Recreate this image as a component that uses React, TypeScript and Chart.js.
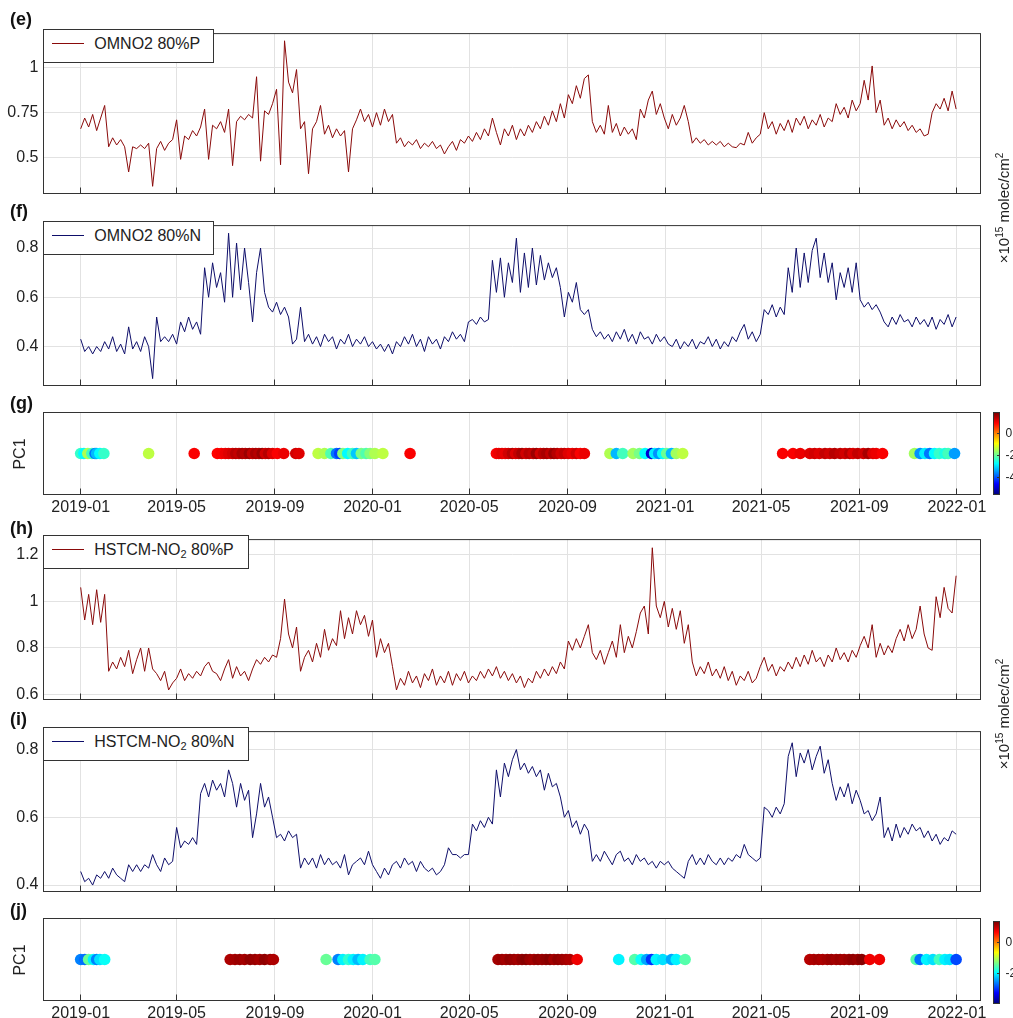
import React, { useEffect, useRef } from "react";
import { Chart, registerables } from "chart.js";

Chart.register(...registerables);

const FONT = '"Liberation Sans", Arial, Helvetica, sans-serif';
Chart.defaults.font.family = FONT;

const W = 1013;
const H = 1018;
const PLOT_LEFT = 43.5;
const PLOT_RIGHT = 980.5;
const X_MIN = -46.5; // days since 2019-01-01
const X_MAX = 1125.5;
const SAMPLE_STEP_DAYS = 5; // series sampled every 5 days from 2019-01-01

// ---------- tick data ----------
const xTickDays = [0, 120, 243, 365, 486, 609, 731, 851, 974, 1096];
const xTickLabels = ["2019-01", "2019-05", "2019-09", "2020-01", "2020-05", "2020-09", "2021-01", "2021-05", "2021-09", "2022-01"];
const yTicksE = [0.5, 0.75, 1];
const yTicksF = [0.4, 0.6, 0.8];
const yTicksH = [0.6, 0.8, 1, 1.2];
const yTicksI = [0.4, 0.6, 0.8];
const colorbarTicksG = [0, -2, -4];
const colorbarTicksJ = [0, -2];

// ---------- series (x10^15 molec/cm^2), one value every 5 days ----------
const omno2P = [
  0.66, 0.72, 0.67, 0.74, 0.65, 0.72, 0.79, 0.56, 0.61, 0.57, 0.60, 0.56, 0.42, 0.56, 0.55, 0.57, 0.55, 0.58, 0.34, 0.55,
  0.59, 0.54, 0.58, 0.60, 0.71, 0.49, 0.62, 0.60, 0.65, 0.62, 0.67, 0.77, 0.49, 0.68, 0.66, 0.70, 0.64, 0.77, 0.455, 0.70,
  0.73, 0.71, 0.74, 0.72, 0.95, 0.48, 0.76, 0.74, 0.80, 0.88, 0.46, 1.15, 0.92, 0.86, 0.99, 0.66, 0.70, 0.41, 0.66, 0.70,
  0.79, 0.63, 0.68, 0.61, 0.66, 0.62, 0.65, 0.42, 0.66, 0.71, 0.77, 0.70, 0.74, 0.67, 0.75, 0.68, 0.77, 0.70, 0.74, 0.58,
  0.61, 0.56, 0.59, 0.57, 0.60, 0.55, 0.58, 0.56, 0.59, 0.55, 0.57, 0.52, 0.56, 0.59, 0.54, 0.60, 0.58, 0.62, 0.59, 0.64,
  0.60, 0.66, 0.62, 0.72, 0.64, 0.57, 0.66, 0.62, 0.68, 0.60, 0.66, 0.62, 0.68, 0.64, 0.70, 0.66, 0.73, 0.68, 0.76, 0.70,
  0.80, 0.72, 0.85, 0.80, 0.90, 0.83, 0.94, 0.96, 0.70, 0.64, 0.68, 0.63, 0.79, 0.64, 0.69, 0.62, 0.67, 0.63, 0.66, 0.60,
  0.77, 0.72, 0.82, 0.87, 0.74, 0.80, 0.72, 0.66, 0.74, 0.68, 0.72, 0.79, 0.70, 0.58, 0.61, 0.58, 0.60, 0.57, 0.59, 0.57,
  0.59, 0.56, 0.58, 0.56, 0.555, 0.58, 0.57, 0.64, 0.58, 0.61, 0.63, 0.75, 0.66, 0.70, 0.63, 0.69, 0.65, 0.71, 0.64, 0.72,
  0.68, 0.73, 0.66, 0.71, 0.68, 0.74, 0.67, 0.72, 0.70, 0.80, 0.74, 0.78, 0.72, 0.82, 0.76, 0.80, 0.93, 0.82, 1.01, 0.75,
  0.82, 0.68, 0.72, 0.66, 0.71, 0.67, 0.70, 0.65, 0.68, 0.64, 0.66, 0.62, 0.63, 0.75, 0.80, 0.77, 0.83, 0.76, 0.87, 0.77,
];

const omno2N = [
  0.43, 0.38, 0.40, 0.37, 0.40, 0.38, 0.42, 0.39, 0.44, 0.38, 0.41, 0.37, 0.48, 0.39, 0.42, 0.38, 0.44, 0.40, 0.27, 0.52,
  0.42, 0.44, 0.42, 0.45, 0.41, 0.50, 0.46, 0.52, 0.47, 0.50, 0.45, 0.72, 0.60, 0.74, 0.64, 0.70, 0.58, 0.86, 0.60, 0.82,
  0.63, 0.80, 0.66, 0.50, 0.70, 0.80, 0.62, 0.56, 0.54, 0.58, 0.53, 0.56, 0.52, 0.41, 0.43, 0.56, 0.42, 0.45, 0.41, 0.44,
  0.40, 0.45, 0.42, 0.44, 0.39, 0.43, 0.41, 0.45, 0.40, 0.43, 0.41, 0.44, 0.40, 0.42, 0.39, 0.41, 0.38, 0.41, 0.37, 0.42,
  0.40, 0.44, 0.41, 0.45, 0.40, 0.43, 0.38, 0.44, 0.41, 0.43, 0.39, 0.44, 0.42, 0.46, 0.43, 0.45, 0.42, 0.50, 0.51, 0.49,
  0.52, 0.50, 0.51, 0.75, 0.62, 0.76, 0.60, 0.74, 0.66, 0.84, 0.62, 0.78, 0.64, 0.80, 0.65, 0.77, 0.67, 0.74, 0.68, 0.72,
  0.64, 0.52, 0.62, 0.58, 0.66, 0.55, 0.53, 0.55, 0.47, 0.44, 0.46, 0.43, 0.45, 0.42, 0.46, 0.43, 0.47, 0.42, 0.45, 0.41,
  0.46, 0.43, 0.44, 0.41, 0.45, 0.42, 0.44, 0.41, 0.40, 0.43, 0.39, 0.42, 0.40, 0.43, 0.39, 0.42, 0.41, 0.44, 0.40, 0.43,
  0.39, 0.42, 0.40, 0.44, 0.42, 0.46, 0.49, 0.43, 0.46, 0.42, 0.45, 0.55, 0.53, 0.57, 0.52, 0.56, 0.53, 0.72, 0.62, 0.80,
  0.64, 0.78, 0.66, 0.79, 0.84, 0.68, 0.78, 0.66, 0.74, 0.59, 0.70, 0.64, 0.72, 0.62, 0.74, 0.59, 0.56, 0.58, 0.55, 0.57,
  0.54, 0.50, 0.48, 0.52, 0.49, 0.53, 0.50, 0.51, 0.48, 0.52, 0.49, 0.51, 0.48, 0.52, 0.47, 0.51, 0.49, 0.53, 0.48, 0.52,
];

const hstcmP = [
  1.06, 0.92, 1.03, 0.90, 1.05, 0.91, 1.03, 0.70, 0.74, 0.71, 0.76, 0.72, 0.79, 0.69, 0.75, 0.80, 0.70, 0.80, 0.71, 0.69,
  0.66, 0.70, 0.62, 0.65, 0.67, 0.71, 0.66, 0.69, 0.67, 0.70, 0.68, 0.72, 0.74, 0.70, 0.69, 0.66, 0.71, 0.75, 0.67, 0.72,
  0.68, 0.70, 0.66, 0.71, 0.75, 0.73, 0.76, 0.74, 0.77, 0.76, 0.84, 1.01, 0.86, 0.80, 0.89, 0.70, 0.76, 0.79, 0.74, 0.82,
  0.76, 0.88, 0.79, 0.84, 0.81, 0.96, 0.84, 0.93, 0.86, 0.96, 0.90, 0.94, 0.85, 0.92, 0.76, 0.84, 0.78, 0.82, 0.72, 0.62,
  0.67, 0.64, 0.70, 0.65, 0.68, 0.63, 0.69, 0.66, 0.71, 0.64, 0.68, 0.65, 0.70, 0.64, 0.69, 0.66, 0.70, 0.65, 0.68, 0.66,
  0.70, 0.67, 0.71, 0.68, 0.72, 0.67, 0.70, 0.66, 0.69, 0.65, 0.68, 0.63, 0.67, 0.65, 0.70, 0.67, 0.71, 0.68, 0.72, 0.69,
  0.74, 0.71, 0.83, 0.79, 0.84, 0.80, 0.85, 0.90, 0.78, 0.75, 0.79, 0.73, 0.78, 0.83, 0.76, 0.90, 0.78, 0.85, 0.80, 0.87,
  0.95, 0.98, 0.86, 1.23, 0.98, 0.93, 1.00, 0.89, 0.97, 0.88, 0.96, 0.82, 0.90, 0.74, 0.68, 0.72, 0.69, 0.74, 0.68, 0.71,
  0.67, 0.72, 0.66, 0.70, 0.64, 0.68, 0.66, 0.70, 0.65, 0.67, 0.72, 0.76, 0.70, 0.73, 0.68, 0.72, 0.70, 0.74, 0.71, 0.76,
  0.72, 0.77, 0.73, 0.79, 0.74, 0.76, 0.72, 0.77, 0.74, 0.80, 0.75, 0.78, 0.74, 0.79, 0.76, 0.81, 0.85, 0.80, 0.90, 0.76,
  0.82, 0.77, 0.81, 0.78, 0.84, 0.88, 0.83, 0.90, 0.84, 0.88, 0.98, 0.86, 0.80, 0.79, 1.02, 0.93, 1.06, 0.97, 0.95, 1.11,
];

const hstcmN = [
  0.44, 0.41, 0.42, 0.40, 0.43, 0.42, 0.44, 0.42, 0.45, 0.43, 0.42, 0.41, 0.46, 0.44, 0.46, 0.44, 0.46, 0.45, 0.49, 0.46,
  0.44, 0.48, 0.46, 0.47, 0.57, 0.51, 0.53, 0.52, 0.54, 0.52, 0.67, 0.70, 0.66, 0.71, 0.68, 0.70, 0.66, 0.74, 0.70, 0.63,
  0.70, 0.65, 0.68, 0.54, 0.61, 0.70, 0.63, 0.66, 0.60, 0.54, 0.55, 0.53, 0.56, 0.54, 0.55, 0.45, 0.48, 0.46, 0.48, 0.45,
  0.49, 0.46, 0.48, 0.46, 0.47, 0.45, 0.49, 0.43, 0.46, 0.47, 0.48, 0.46, 0.50, 0.46, 0.44, 0.42, 0.45, 0.43, 0.46, 0.47,
  0.45, 0.48, 0.46, 0.47, 0.44, 0.47, 0.45, 0.44, 0.45, 0.43, 0.44, 0.46, 0.51, 0.49, 0.49, 0.48, 0.49, 0.49, 0.58, 0.56,
  0.59, 0.57, 0.60, 0.58, 0.74, 0.66, 0.76, 0.72, 0.77, 0.80, 0.74, 0.76, 0.73, 0.75, 0.72, 0.74, 0.68, 0.73, 0.69, 0.70,
  0.66, 0.60, 0.62, 0.57, 0.59, 0.55, 0.58, 0.56, 0.47, 0.49, 0.47, 0.50, 0.48, 0.46, 0.49, 0.50, 0.47, 0.48, 0.46, 0.49,
  0.47, 0.48, 0.46, 0.47, 0.45, 0.47, 0.46, 0.47, 0.45, 0.44, 0.43, 0.42, 0.47, 0.49, 0.46, 0.48, 0.46, 0.49, 0.47, 0.46,
  0.48, 0.46, 0.48, 0.47, 0.49, 0.48, 0.52, 0.49, 0.48, 0.47, 0.48, 0.63, 0.62, 0.60, 0.63, 0.61, 0.64, 0.78, 0.82, 0.72,
  0.79, 0.76, 0.80, 0.74, 0.78, 0.81, 0.73, 0.77, 0.70, 0.65, 0.69, 0.66, 0.70, 0.64, 0.68, 0.65, 0.61, 0.62, 0.59, 0.61,
  0.66, 0.54, 0.57, 0.53, 0.58, 0.54, 0.57, 0.55, 0.58, 0.56, 0.57, 0.54, 0.56, 0.53, 0.55, 0.52, 0.54, 0.53, 0.56, 0.55,
];

// ---------- PC1 scores (days since 2019-01-01) ----------
const pcDaysOMNO2 = [
  0, 4, 9, 14, 18, 20, 24, 29,
  85, 142,
  171, 176, 181, 185, 190, 194, 198, 202, 206, 211, 215, 219, 223, 227, 231, 235, 240, 246, 254, 269, 273,
  297, 305, 313, 320, 324, 328, 334, 340, 345, 351, 357, 362, 368, 378,
  412,
  520, 523, 527, 531, 535, 540, 544, 548, 552, 557, 561, 566, 570, 575, 579, 583, 588, 592, 596, 601, 605, 610, 615, 620, 625, 630,
  662, 670, 678, 691, 699, 706, 714, 718, 723, 728, 733, 739, 745, 753,
  878, 891, 900, 912, 918, 924, 931, 937, 943, 950, 956, 962, 966, 972, 979, 985, 991, 995, 1003,
  1043, 1050, 1056, 1062, 1068, 1074, 1081, 1085, 1093,
];
const pcValsOMNO2 = [
  -2.4, -2.8, -1.5, -2.3, -3.8, -3.3, -2.8, -2.4,
  -1.4, 1.0,
  0.95, 1.0, 1.1, 1.2, 1.3, 1.5, 1.4, 1.6, 1.5, 1.7, 1.4, 1.6, 1.5, 1.7, 1.3, 1.5, 1.2, 1.0, 1.1, 1.3, 1.2,
  -1.4, -1.5, -2.2, -3.8, -4.2, -1.8, -2.8, -2.3, -3.2, -1.9, -2.2, -1.8, -1.5, -1.4,
  1.0,
  1.0, 1.1, 1.2, 1.1, 1.3, 1.5, 1.2, 1.4, 1.6, 1.3, 1.5, 1.4, 1.7, 1.3, 1.5, 1.6, 1.4, 1.7, 1.5, 1.3, 1.4, 1.2, 1.1, 1.3, 1.0, 1.1,
  -1.5, -3.3, -2.3, -1.6, -1.9, -2.8, -5.0, -2.9, -3.6, -2.8, -2.0, -3.3, -1.6, -1.4,
  1.0, 1.0, 1.1, 1.2, 1.3, 1.2, 1.4, 1.3, 1.5, 1.4, 1.3, 1.5, 1.2, 1.4, 1.3, 1.6, 1.2, 1.1, 1.0,
  -1.6, -3.6, -2.9, -3.8, -2.8, -2.4, -2.6, -2.3, -3.5,
];

const pcDaysHSTCM = [
  0, 5, 10, 16, 20, 24, 30,
  187, 193, 199, 205, 212, 218, 224, 230, 237, 241,
  307, 322, 328, 335, 341, 347, 353, 362, 368,
  522, 527, 532, 537, 542, 547, 552, 557, 562, 567, 572, 577, 582, 587, 592, 597, 602, 607, 612, 621,
  673, 693, 701, 708, 714, 720, 728, 739, 745, 756,
  912, 917, 923, 928, 934, 939, 945, 950, 955, 961, 966, 972, 977, 987, 999,
  1045, 1050, 1058, 1066, 1074, 1081, 1087, 1095,
];
const pcValsHSTCM = [
  -2.6, -2.7, -1.4, -2.0, -2.6, -2.1, -1.9,
  1.15, 1.2, 1.25, 1.2, 1.3, 1.25, 1.2, 1.3, 1.25, 1.15,
  -1.4, -2.6, -2.0, -1.7, -2.0, -2.3, -2.0, -1.6, -1.5,
  1.2, 1.25, 1.2, 1.3, 1.25, 1.2, 1.3, 1.35, 1.25, 1.2, 1.3, 1.25, 1.3, 1.35, 1.2, 1.3, 1.25, 1.2, 1.15, 0.8,
  -2.0, -1.5, -1.9, -2.4, -3.0, -2.0, -2.1, -2.4, -2.0, -1.5,
  1.1, 1.15, 1.2, 1.15, 1.2, 1.25, 1.2, 1.25, 1.2, 1.25, 1.3, 1.25, 1.35, 0.8, 0.8,
  -1.5, -2.7, -2.0, -2.1, -1.6, -2.0, -2.1, -2.9,
];

// ---------- styling ----------
const RED = "#8a0a0a";
const NAVY = "#0e0e6a";
const GRID = "#e2e2e2";
const FRAME = "#333333";
const TEXT = "#222222";

function clamp01(v: number) {
  return Math.max(0, Math.min(1, v));
}
function jet(t: number) {
  const u = clamp01(t);
  const r = clamp01(1.5 - Math.abs(4 * u - 3));
  const g = clamp01(1.5 - Math.abs(4 * u - 2));
  const b = clamp01(1.5 - Math.abs(4 * u - 1));
  return `rgb(${Math.round(r * 255)},${Math.round(g * 255)},${Math.round(b * 255)})`;
}
const JET_GRADIENT =
  "linear-gradient(to top, rgb(0,0,128) 0%, rgb(0,0,255) 12.5%, rgb(0,255,255) 37.5%, rgb(128,255,128) 50%, rgb(255,255,0) 62.5%, rgb(255,0,0) 87.5%, rgb(128,0,0) 100%)";

type Spec = {
  key: string;
  kind: "line" | "scatter";
  top: number;
  bottom: number;
  values: number[];
  days?: number[];
  color?: string;
  yMin: number;
  yMax: number;
  yTicks: number[];
  cMin?: number;
  cMax?: number;
  showX: boolean;
};

const panels: Spec[] = [
  { key: "e", kind: "line", top: 29.5, bottom: 193.5, values: omno2P, color: RED, yMin: 0.3, yMax: 1.19, yTicks: yTicksE, showX: false },
  { key: "f", kind: "line", top: 221.5, bottom: 385.5, values: omno2N, color: NAVY, yMin: 0.242, yMax: 0.891, yTicks: yTicksF, showX: false },
  { key: "g", kind: "scatter", top: 412.5, bottom: 494.5, values: pcValsOMNO2, days: pcDaysOMNO2, yMin: -1, yMax: 1, yTicks: [], cMin: -5.6, cMax: 1.9, showX: true },
  { key: "h", kind: "line", top: 535.5, bottom: 699.5, values: hstcmP, color: RED, yMin: 0.579, yMax: 1.265, yTicks: yTicksH, showX: false },
  { key: "i", kind: "line", top: 727.5, bottom: 891.5, values: hstcmN, color: NAVY, yMin: 0.381, yMax: 0.853, yTicks: yTicksI, showX: false },
  { key: "j", kind: "scatter", top: 918.5, bottom: 1000.5, values: pcValsHSTCM, days: pcDaysHSTCM, yMin: -1, yMax: 1, yTicks: [], cMin: -3.94, cMax: 1.39, showX: true },
];

const framePlugin = {
  id: "frameAndTicks",
  afterDraw(chart: any) {
    const { ctx, chartArea: a, scales } = chart;
    ctx.save();
    ctx.strokeStyle = FRAME;
    ctx.lineWidth = 1;
    ctx.strokeRect(a.left, a.top, a.right - a.left, a.bottom - a.top);
    ctx.beginPath();
    xTickDays.forEach((d) => {
      const p = scales.x.getPixelForValue(d);
      const px = Math.round(p - 0.5) + 0.5;
      ctx.moveTo(px, a.bottom);
      ctx.lineTo(px, a.bottom - 6);
    });
    ctx.stroke();
    ctx.restore();
  },
};

function PanelChart({ spec }: { spec: Spec }) {
  const ref = useRef<HTMLCanvasElement | null>(null);
  const canvasTop = Math.floor(spec.top) - 10;
  const canvasHeight = Math.ceil(spec.bottom - canvasTop) + 30;

  useEffect(() => {
    if (!ref.current) return;
    const padTop = spec.top - canvasTop;
    const xAxisHeight = canvasHeight - (spec.bottom - canvasTop);
    const isLine = spec.kind === "line";
    let dataset: any;
    if (isLine) {
      dataset = {
        type: "line",
        data: spec.values.map((v, i) => ({ x: i * SAMPLE_STEP_DAYS, y: v })),
        borderColor: spec.color,
        borderWidth: 1,
        pointRadius: 0,
        tension: 0,
        fill: false,
      };
    } else {
      const range = (spec.cMax as number) - (spec.cMin as number);
      const colors = spec.values.map((v) => jet((v - (spec.cMin as number)) / range));
      dataset = {
        type: "scatter",
        data: (spec.days as number[]).map((d) => ({ x: d, y: 0 })),
        pointRadius: 5.8,
        pointBorderWidth: 0,
        pointBackgroundColor: colors,
        pointBorderColor: colors,
        showLine: false,
      };
    }
    const chart = new Chart(ref.current, {
      type: isLine ? "line" : "scatter",
      data: { datasets: [dataset] },
      options: {
        animation: false,
        responsive: false,
        devicePixelRatio: 1,
        events: [],
        layout: { padding: { left: 0, top: padTop, right: W - PLOT_RIGHT, bottom: 0 } },
        plugins: { legend: { display: false }, tooltip: { enabled: false }, title: { display: false } },
        scales: {
          x: {
            type: "linear",
            min: X_MIN,
            max: X_MAX,
            afterBuildTicks: (s: any) => {
              s.ticks = xTickDays.map((v) => ({ value: v }));
            },
            afterFit: (s: any) => {
              s.height = xAxisHeight;
            },
            ticks: {
              display: spec.showX,
              autoSkip: false,
              maxRotation: 0,
              minRotation: 0,
              padding: 3,
              color: TEXT,
              font: { family: FONT, size: 16 },
              callback: (v: any) => {
                const k = xTickDays.indexOf(Number(v));
                return k >= 0 ? xTickLabels[k] : "";
              },
            },
            grid: { color: GRID, lineWidth: 1, drawTicks: false },
            border: { display: false },
          },
          y: {
            type: "linear",
            min: spec.yMin,
            max: spec.yMax,
            afterBuildTicks: (s: any) => {
              s.ticks = spec.yTicks.map((v) => ({ value: v }));
            },
            afterFit: (s: any) => {
              s.width = PLOT_LEFT;
            },
            ticks: {
              display: isLine,
              padding: 5,
              color: TEXT,
              font: { family: FONT, size: 16 },
              callback: (v: any) => String(v),
            },
            grid: { display: isLine, color: GRID, lineWidth: 1, drawTicks: false },
            border: { display: false },
          },
        },
      } as any,
      plugins: [framePlugin],
    });
    return () => chart.destroy();
  }, []);

  return (
    <canvas
      ref={ref}
      width={W}
      height={canvasHeight}
      style={{ position: "absolute", left: 0, top: canvasTop, width: W, height: canvasHeight }}
    />
  );
}

function LegendBox({ top, width, color, children }: { top: number; width: number; color: string; children: any }) {
  return (
    <div
      style={{
        position: "absolute",
        left: 43,
        top: top,
        width: width,
        height: 34,
        boxSizing: "border-box",
        border: `1px solid ${FRAME}`,
        background: "#fff",
      }}
    >
      <div style={{ position: "absolute", left: 7.7, top: 13, width: 32, height: 1, background: color }} />
      <div
        style={{
          position: "absolute",
          left: 50.3,
          top: 5,
          fontSize: 16,
          lineHeight: "18px",
          whiteSpace: "nowrap",
          color: TEXT,
        }}
      >
        {children}
      </div>
    </div>
  );
}

function Rotated({ cx, cy, size, children }: { cx: number; cy: number; size: number; children: any }) {
  return (
    <div
      style={{
        position: "absolute",
        left: cx,
        top: cy,
        transform: "translate(-50%, -50%) rotate(-90deg)",
        whiteSpace: "nowrap",
        fontSize: size,
        lineHeight: 1,
        color: TEXT,
      }}
    >
      {children}
    </div>
  );
}

function Colorbar({ top, height, cMin, cMax, ticks }: { top: number; height: number; cMin: number; cMax: number; ticks: number[] }) {
  return (
    <>
      <div
        style={{
          position: "absolute",
          left: 993,
          top: top,
          width: 7,
          height: height,
          boxSizing: "border-box",
          border: `1px solid ${FRAME}`,
          background: JET_GRADIENT,
        }}
      />
      {ticks.map((t) => {
        const y = top + ((cMax - t) / (cMax - cMin)) * height;
        return (
          <React.Fragment key={t}>
            <div style={{ position: "absolute", left: 997, top: Math.round(y), width: 2, height: 1, background: FRAME }} />
            <div
              style={{
                position: "absolute",
                left: 1005.5,
                top: y,
                transform: "translateY(-50%)",
                fontSize: 12,
                lineHeight: 1,
                color: TEXT,
                whiteSpace: "nowrap",
              }}
            >
              {String(t)}
            </div>
          </React.Fragment>
        );
      })}
    </>
  );
}

const letterStyle = (top: number): any => ({
  position: "absolute",
  left: 10,
  top: top,
  fontSize: 18,
  fontWeight: "bold",
  lineHeight: "20px",
  color: "#111",
});

const sub = { fontSize: 11, verticalAlign: "-3px", lineHeight: 0 } as any;
const sup = { fontSize: 10, verticalAlign: "6px", lineHeight: 0 } as any;

export default function App() {
  return (
    <div
      style={{
        position: "fixed",
        left: 0,
        top: 0,
        width: W,
        height: H,
        overflow: "hidden",
        background: "#fff",
        fontFamily: FONT,
      }}
    >
      {panels.map((p) => (
        <PanelChart key={p.key} spec={p} />
      ))}

      <div style={letterStyle(9.2)}>(e)</div>
      <div style={letterStyle(201.2)}>(f)</div>
      <div style={letterStyle(392.7)}>(g)</div>
      <div style={letterStyle(517.7)}>(h)</div>
      <div style={letterStyle(708.7)}>(i)</div>
      <div style={letterStyle(899.7)}>(j)</div>

      <LegendBox top={29} width={171} color={RED}>OMNO2 80%P</LegendBox>
      <LegendBox top={221} width={171} color={NAVY}>OMNO2 80%N</LegendBox>
      <LegendBox top={535} width={206} color={RED}>
        HSTCM-NO<span style={sub}>2</span> 80%P
      </LegendBox>
      <LegendBox top={727} width={206} color={NAVY}>
        HSTCM-NO<span style={sub}>2</span> 80%N
      </LegendBox>

      <Rotated cx={20} cy={453.5} size={16}>PC1</Rotated>
      <Rotated cx={20} cy={959.5} size={16}>PC1</Rotated>

      <Rotated cx={1003} cy={207.5} size={15}>
        ×10<span style={sup}>15</span> molec/cm<span style={sup}>2</span>
      </Rotated>
      <Rotated cx={1003} cy={713.5} size={15}>
        ×10<span style={sup}>15</span> molec/cm<span style={sup}>2</span>
      </Rotated>

      <Colorbar top={412} height={83} cMin={-5.6} cMax={1.9} ticks={colorbarTicksG} />
      <Colorbar top={920.5} height={83} cMin={-3.94} cMax={1.39} ticks={colorbarTicksJ} />
    </div>
  );
}
